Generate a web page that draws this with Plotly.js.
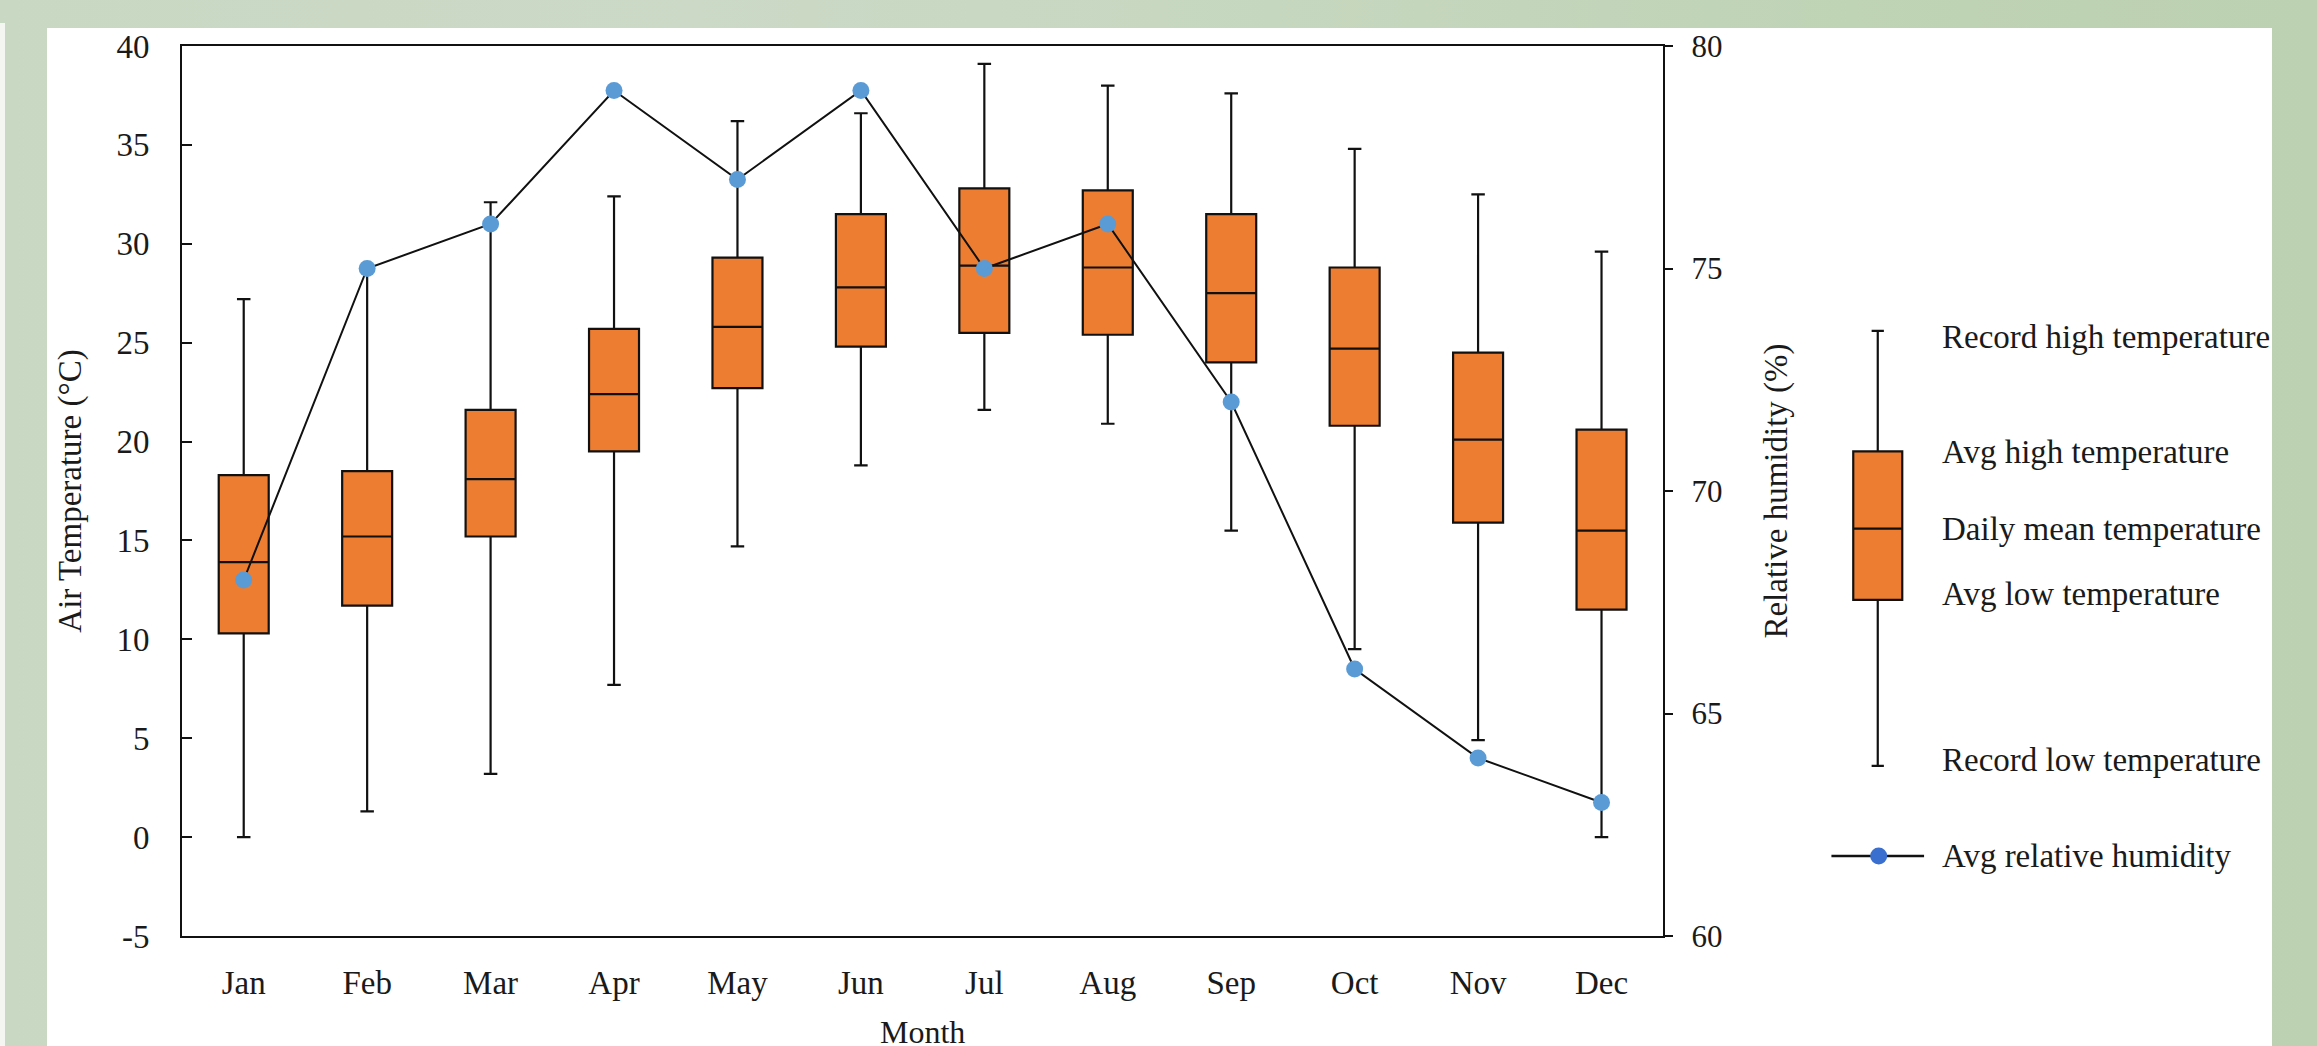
<!DOCTYPE html>
<html>
<head>
<meta charset="utf-8">
<script src="https://cdn.plot.ly/plotly-3.0.1.min.js"></script>
<style>
  html, body { margin: 0; padding: 0; width: 2317px; height: 1046px; overflow: hidden; }
  body {
    background: linear-gradient(to right, #c9d8c3 0%, #cbd9c6 30%, #c6d7bf 55%, #bfd3b5 80%, #bcd1b1 100%);
    position: relative;
  }
  #sliver { position: absolute; left: 0; top: 23px; width: 5px; height: 1023px; background: #f4f6f2; }
  #chart { position: absolute; left: 47px; top: 28px; width: 2225px; height: 1040px; background: #fff; }
</style>
</head>
<body>
<div id="sliver"></div>
<div id="chart"></div>
<script>
// ---- data ----
const months = ["Jan","Feb","Mar","Apr","May","Jun","Jul","Aug","Sep","Oct","Nov","Dec"];
const recordHigh = [27.2, 28.7, 32.1, 32.4, 36.2, 36.6, 39.1, 38.0, 37.6, 34.8, 32.5, 29.6];
const avgHigh    = [18.3, 18.5, 21.6, 25.7, 29.3, 31.5, 32.8, 32.7, 31.5, 28.8, 24.5, 20.6];
const dailyMean  = [13.9, 15.2, 18.1, 22.4, 25.8, 27.8, 28.9, 28.8, 27.5, 24.7, 20.1, 15.5];
const avgLow     = [10.3, 11.7, 15.2, 19.5, 22.7, 24.8, 25.5, 25.4, 24.0, 20.8, 15.9, 11.5];
const recordLow  = [0.0, 1.3, 3.2, 7.7, 14.7, 18.8, 21.6, 20.9, 15.5, 9.5, 4.9, 0.0];
const humidity   = [68, 75, 76, 79, 77, 79, 75, 76, 72, 66, 64, 63];

const tempTicks = [-5, 0, 5, 10, 15, 20, 25, 30, 35, 40];
const tempTickText = ["-5", "0", "5", "10", "15", "20", "25", "30", "35", "40"];
const humTicks  = [60, 65, 70, 75, 80];

// legend key sample (drawn on a hidden helper axis using the temperature scale)
const keyLabels = ["Record high temperature","Avg high temperature","Daily mean temperature","Avg low temperature","Record low temperature"];
const keyValues = [25.6, 19.5, 15.6, 12.0, 3.6];
const keyTextY  = [25.3, 19.45, 15.6, 12.3, 3.9];
const humKeyLabel = "Avg relative humidity";
const humKeyY = -0.95;

const serif = "Liberation Serif, Times New Roman, serif";
const ink = "#1a1a1a";

const traces = [
  {
    type: "box",
    x: months,
    q1: avgLow, median: dailyMean, q3: avgHigh,
    lowerfence: recordLow, upperfence: recordHigh,
    xaxis: "x", yaxis: "y",
    fillcolor: "#ED7D31",
    line: { color: "#111", width: 2.2 },
    width: 0.405,
    whiskerwidth: 0.27,
    boxpoints: false,
    hoverinfo: "skip",
    showlegend: false
  },
  {
    type: "scatter",
    mode: "lines+markers",
    x: months, y: humidity,
    xaxis: "x", yaxis: "y2",
    line: { color: "#111", width: 2 },
    marker: { color: "#5B9BD5", size: 17 },
    hoverinfo: "skip",
    showlegend: false
  },
  // legend key: box glyph
  {
    type: "box",
    x: [0.5],
    lowerfence: [keyValues[4]], q1: [keyValues[3]], median: [keyValues[2]],
    q3: [keyValues[1]], upperfence: [keyValues[0]],
    xaxis: "x3", yaxis: "y3",
    fillcolor: "#ED7D31",
    line: { color: "#111", width: 2.2 },
    width: 0.527,
    whiskerwidth: 0.25,
    boxpoints: false,
    hoverinfo: "skip",
    showlegend: false
  },
  // legend key: humidity line + marker
  {
    type: "scatter",
    mode: "lines",
    x: [0, 1], y: [humKeyY, humKeyY],
    xaxis: "x3", yaxis: "y3",
    line: { color: "#111", width: 2.5 },
    hoverinfo: "skip",
    showlegend: false
  },
  {
    type: "scatter",
    mode: "markers",
    x: [0.51], y: [humKeyY],
    xaxis: "x3", yaxis: "y3",
    marker: { color: "#3A6FCF", size: 17 },
    hoverinfo: "skip",
    showlegend: false
  }
];

// legend text x position in paper coordinates (just right of the key glyphs)
const keyTextX = 0.8509;
const annotations = keyLabels.map((t, i) => ({
  text: t, xref: "paper", yref: "y3", x: keyTextX, y: keyTextY[i],
  xanchor: "left", yanchor: "middle", showarrow: false,
  font: { family: serif, size: 33, color: ink }
}));
annotations.push({
  text: humKeyLabel, xref: "paper", yref: "y3", x: keyTextX, y: humKeyY,
  xanchor: "left", yanchor: "middle", showarrow: false,
  font: { family: serif, size: 33, color: ink }
});

const layout = {
  width: 2225, height: 1040,
  margin: { l: 135, r: 24, t: 18, b: 132 },
  paper_bgcolor: "#ffffff",
  plot_bgcolor: "rgba(0,0,0,0)",
  showlegend: false,
  font: { family: serif, color: ink },
  xaxis: {
    type: "category",
    domain: [0, 0.71696],
    range: [-0.5, 11.5],
    showline: true, mirror: true, linecolor: "#111", linewidth: 2,
    ticks: "", showgrid: false, zeroline: false,
    tickfont: { family: serif, size: 33, color: ink },
    ticklabelstandoff: 16,
    title: { text: "Month", font: { family: serif, size: 32, color: ink }, standoff: 21 },
    automargin: false
  },
  yaxis: {
    range: [-5, 40],
    tickvals: tempTicks,
    ticktext: tempTickText,
    ticks: "inside", ticklen: 10, tickwidth: 2, tickcolor: "#111",
    showline: true, linecolor: "#111", linewidth: 2,
    showgrid: false, zeroline: false,
    tickfont: { family: serif, size: 33, color: ink },
    ticklabelstandoff: 24,
    title: { text: "Air Temperature (°C)", font: { family: serif, size: 33, color: ink }, standoff: 25 },
    automargin: false
  },
  yaxis2: {
    range: [60, 80],
    tickvals: humTicks,
    overlaying: "y", side: "right", anchor: "x",
    ticks: "outside", ticklen: 8, tickwidth: 2, tickcolor: "#111",
    showline: true, linecolor: "#111", linewidth: 2,
    showgrid: false, zeroline: false,
    tickfont: { family: serif, size: 31, color: ink },
    ticklabelstandoff: 12,
    title: { text: "Relative humidity (%)", font: { family: serif, size: 33, color: ink }, standoff: 42 },
    automargin: false
  },
  xaxis3: {
    domain: [0.79828, 0.84330],
    range: [0, 1],
    anchor: "y3", visible: false, fixedrange: true
  },
  yaxis3: {
    domain: [0, 1],
    range: [-5, 40],
    anchor: "x3", visible: false, fixedrange: true
  },
  annotations: annotations
};

Plotly.newPlot("chart", traces, layout, { staticPlot: true, displayModeBar: false });
</script>
</body>
</html>
